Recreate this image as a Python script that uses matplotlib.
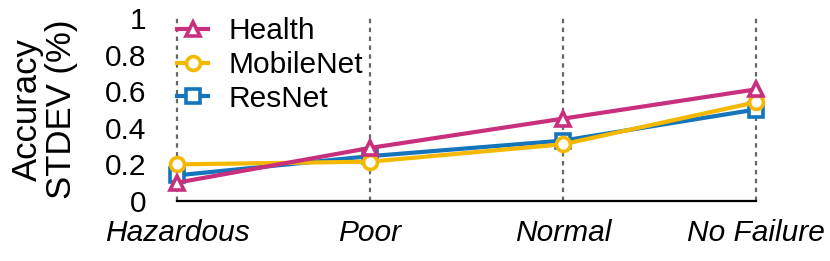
import matplotlib
matplotlib.use("Agg")
import matplotlib.pyplot as plt

categories = ["Hazardous", "Poor", "Normal", "No Failure"]
health = [0.10, 0.29, 0.45, 0.61]
mobilenet = [0.20, 0.215, 0.31, 0.54]
resnet = [0.14, 0.245, 0.33, 0.50]
yticks = [0, 0.2, 0.4, 0.6, 0.8, 1]
ytick_labels = ["0", "0.2", "0.4", "0.6", "0.8", "1"]

plt.rcParams['font.family'] = ['Liberation Sans', 'DejaVu Sans']

W, H = 830, 261
fig = plt.figure(figsize=(W / 100, H / 100), dpi=100)
ax_l, ax_r, ax_t, ax_b = 177, 756, 18, 201
ax = fig.add_axes([ax_l / W, 1 - ax_b / H, (ax_r - ax_l) / W, (ax_b - ax_t) / H])

x = list(range(len(categories)))
for xi in x:
    ax.axvline(xi, color="#666666", linestyle=(0, (2.0, 2.0)), linewidth=1.6,
               zorder=0, clip_on=False)

series = [
    ("Health", health, "#C8307E", "^"),
    ("MobileNet", mobilenet, "#F5B800", "o"),
    ("ResNet", resnet, "#1474BC", "s"),
]
for name, vals, col, mk in [series[2], series[1], series[0]]:
    ax.plot(x, vals, color=col, marker=mk, markersize=10, markerfacecolor="white",
            markeredgewidth=2.6, linewidth=3, label=name, clip_on=False)

ax.set_xlim(0, 3)
ax.set_ylim(0, 1)
ax.set_xticks(x)
ax.set_xticklabels(categories, fontsize=21.5, style="italic")
ax.set_yticks(yticks)
ax.set_yticklabels(ytick_labels, fontsize=21.5)
ax.tick_params(axis="both", length=0)
ax.tick_params(axis="y", pad=22)
ax.tick_params(axis="x", pad=13)
for s in ["top", "right", "left"]:
    ax.spines[s].set_visible(False)
ax.spines["bottom"].set_linewidth(1.6)
ax.set_ylabel("Accuracy\nSTDEV (%)", fontsize=25, linespacing=1.05)
ax.yaxis.set_label_coords((78 - ax_l) / (ax_r - ax_l), 0.5)

handles, labels = ax.get_legend_handles_labels()
order = [2, 1, 0]
leg = ax.legend([handles[i] for i in order], [labels[i] for i in order],
                loc="upper left", bbox_to_anchor=(0.0, (ax_b - 17) / (ax_b - ax_t)),
                frameon=False, fontsize=21.5, handlelength=1.04, handletextpad=0.67,
                labelspacing=0.2, borderaxespad=0, borderpad=0)

fig.savefig("out.png", dpi=100)
